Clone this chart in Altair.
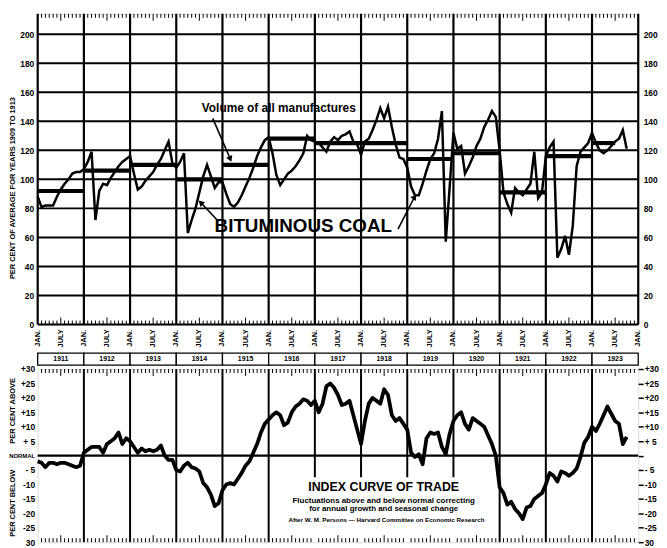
import altair as alt
import pandas as pd

# ---------------- values ----------------
years = [1911, 1912, 1913, 1914, 1915, 1916, 1917, 1918, 1919, 1920, 1921, 1922, 1923]
year_labels = ["1911", "1912", "1913", "1914", "1915", "1916", "1917",
               "1918", "1919", "1920", "1921", "1922", "1923"]
month_labels = ["JAN.", "JULY"]

# Bituminous coal, monthly Jan 1911 - Oct 1923 (per cent of 1909-1913 average)
coal = [
    88, 81, 82, 82, 82, 88, 93, 97, 100, 104, 105, 105,          # 1911
    107, 112, 119, 72, 92, 97, 96, 101, 105, 109, 112, 114,      # 1912
    116, 104, 93, 95, 99, 102, 105, 110, 114, 120, 126, 111,     # 1913
    108, 112, 118, 63, 72, 80, 91, 102, 110, 102, 94, 98,        # 1914
    98, 90, 83, 81, 84, 89, 95, 101, 108, 116, 122, 127,         # 1915
    129, 118, 103, 96, 100, 104, 106, 109, 113, 118, 130, 127,   # 1916
    126, 125, 122, 119, 126, 129, 127, 130, 131, 133, 126, 124,  # 1917
    117, 126, 128, 134, 141, 149, 142, 150, 136, 124, 115, 114,  # 1918
    108, 95, 89, 89, 97, 106, 114, 118, 128, 147, 57, 94,        # 1919
    132, 121, 123, 104, 109, 115, 123, 128, 136, 141, 147, 143,  # 1920
    120, 91, 83, 77, 94, 91, 89, 93, 97, 119, 87, 91,            # 1921
    116, 122, 126, 46, 52, 61, 48, 68, 109, 119, 122, 125,       # 1922
    132, 125, 120, 118, 120, 123, 126, 128, 134, 121,            # 1923
]

# Volume of all manufactures, yearly level
manufactures = [92, 106, 110, 100, 110, 128, 125, 125, 114, 118, 91, 116, 125]
manufactures_end = [1912, 1913, 1914, 1915, 1916, 1917, 1918, 1919, 1920,
                    1921, 1922, 1923, 1923.5]

# Index curve of trade, monthly Jan 1911 - Oct 1923 (per cent above / below normal)
trade = [
    -2, -2.5, -4, -2.5, -2.5, -3, -2.5, -2.5, -3, -3.5, -4, -3.5,      # 1911
    1, 2, 3, 3, 3, 1, 4, 5, 6, 8, 4, 6,                                # 1912
    5, 3, 1, 2.5, 1.5, 2, 1.5, 2, 3.5, 0, -1.5, -1.5,                  # 1913
    -5, -5.5, -3.5, -2.5, -4, -4.5, -5.5, -9.5, -11, -13.5, -17.5, -16.5,  # 1914
    -12, -10, -9.5, -10, -8, -6, -3.5, -2, 1, 4, 8, 11,                # 1915
    12.5, 14, 15, 14, 10.5, 11.5, 15, 17, 18, 19.5, 19, 17.5,          # 1916
    19, 15, 18, 24, 25, 23.5, 21, 17.5, 18, 19, 14, 9,                 # 1917
    4, 12, 18, 20, 19, 18, 23, 21, 14, 12, 13, 11,                     # 1918
    9, 1, -0.5, 0.5, -3, 6, 8, 7.5, 8, 3, 0.5, 7.5,                    # 1919
    12, 14, 15, 11, 9, 13, 12, 11, 10, 7, 4, 0,                        # 1920
    -11, -13, -17, -16, -18.5, -20, -22, -18, -17.5, -15, -14, -13,    # 1921
    -10, -6, -7, -9, -5.5, -6, -7, -6, -4.5, -0.5, 4.5, 6.5,           # 1922
    10, 8.5, 11, 14, 17, 14.5, 12, 11, 4, 6.5,                         # 1923
]

top_ticks = [0, 20, 40, 60, 80, 100, 120, 140, 160, 180, 200]
trade_ticks = [-30, -25, -20, -15, -10, -5, 0, 5, 10, 15, 20, 25, 30]

# ---------------- tables built from the arrays ----------------
df_coal = pd.DataFrame({"t": [1911 + i / 12 for i in range(len(coal))], "v": coal})
df_trade = pd.DataFrame({"t": [1911 + i / 12 for i in range(len(trade))], "v": trade})
df_man = pd.DataFrame({"start": years, "end": manufactures_end, "v": manufactures})
df_years = pd.DataFrame({"start": years, "end": [y + 1 for y in years],
                         "mid": [y + 0.5 for y in years], "label": year_labels})
df_bounds = pd.DataFrame({"yr": years + [1924]})
df_hgrid = pd.DataFrame({"v": top_ticks})
df_tt = pd.DataFrame({"v": trade_ticks})
df_mlab = pd.DataFrame({"t": [1911 + k / 2 for k in range(27)],
                        "label": [month_labels[k % 2] for k in range(27)]})
months_all = [1911 + k / 12 for k in range(1, 156) if k % 12 != 0]
df_mt = pd.DataFrame({"t": months_all,
                      "jul": [round((t % 1) * 12) == 6 for t in months_all]})

W, HT, HB = 607, 314, 175
FONT = "Liberation Sans"
xs = alt.Scale(domain=[1911, 1924], nice=False, zero=False)
yt = alt.Scale(domain=[0, 214], nice=False, zero=False)
yb = alt.Scale(domain=[-30, 30], nice=False, zero=False)
X = lambda f: alt.X(f, type="quantitative", scale=xs, axis=None)


def one(t, v):
    return pd.DataFrame({"t": [t], "v": [v]})


def label(text, t, v, ys, **kw):
    base = dict(font=FONT, fontWeight="bold", color="black")
    base.update(kw)
    return alt.Chart(one(t, v)).mark_text(text=text, **base).encode(
        x=X("t"), y=alt.Y("v:Q", scale=ys, axis=None))


def arrow(t1, v1, t2, v2, ang, ys):
    seg = alt.Chart(pd.DataFrame({"t": [t1], "v": [v1], "t2": [t2], "v2": [v2]})).mark_rule(
        color="black", strokeWidth=1.6).encode(
        x=X("t"), x2="t2", y=alt.Y("v:Q", scale=ys, axis=None), y2="v2")
    head = alt.Chart(one(t2, v2)).mark_point(
        shape="triangle-up", filled=True, color="black", size=45, angle=ang, opacity=1).encode(
        x=X("t"), y=alt.Y("v:Q", scale=ys, axis=None))
    return [seg, head]


def border_ticks(H):
    out = []
    for jul, L in [(False, 4), (True, 7)]:
        d = df_mt[df_mt["jul"] == jul]
        out.append(alt.Chart(d).mark_rule(color="black", strokeWidth=1).encode(
            x=X("t"), y=alt.value(0), y2=alt.value(L)))
        out.append(alt.Chart(d).mark_rule(color="black", strokeWidth=1).encode(
            x=X("t"), y=alt.value(H - L), y2=alt.value(H)))
    return out


def axis_layer(df, ys, **axkw):
    base = dict(labelFont=FONT, labelFontWeight="bold", labelColor="black",
                domain=False, grid=False, title=None, labelOverlap=False, labelFlush=False)
    base.update(axkw)
    return alt.Chart(df).mark_point(opacity=0).encode(
        x=alt.value(0), y=alt.Y("v:Q", scale=ys, axis=alt.Axis(**base)))


# ---------------- top panel ----------------
hgrid = alt.Chart(df_hgrid).mark_rule(color="black", strokeWidth=2).encode(
    y=alt.Y("v:Q", scale=yt, axis=None), x=alt.value(0), x2=alt.value(W))
vgrid = alt.Chart(df_bounds).mark_rule(color="black", strokeWidth=2.2).encode(
    x=X("yr"), y=alt.value(0), y2=alt.value(HT))
man = alt.Chart(df_man).mark_rule(color="black", strokeWidth=4.2).encode(
    x=X("start"), x2="end", y=alt.Y("v:Q", scale=yt, axis=None))
coal_line = alt.Chart(df_coal).mark_line(color="black", strokeWidth=2.5).encode(
    x=X("t"), y=alt.Y("v:Q", scale=yt, axis=None))

mlab = alt.Chart(df_mlab).mark_text(font=FONT, fontWeight="bold", fontSize=7.5, angle=270,
                                    color="black", align="center", baseline="middle").encode(
    x=X("t"), y=alt.value(HT + 14), text="label:N")
ybox = alt.Chart(df_years).mark_rect(fill="white", stroke="black", strokeWidth=1.3).encode(
    x=X("start"), x2="end", y=alt.value(HT + 29), y2=alt.value(HT + 41))
ytxt = alt.Chart(df_years).mark_text(font=FONT, fontWeight="bold", fontSize=7, color="black",
                                     baseline="middle").encode(
    x=X("mid"), y=alt.value(HT + 35), text="label:N")

top_title = alt.Chart(one(1911, 94)).mark_text(
    text="PER CENT OF AVERAGE FOR YEARS 1909 TO 1913", font=FONT, fontWeight="bold",
    fontSize=7.5, angle=270, color="black", baseline="middle").encode(
    x=alt.value(-25), y=alt.Y("v:Q", scale=yt, axis=None))

top_inner = alt.layer(
    hgrid, vgrid, man, coal_line, *border_ticks(HT), mlab, ybox, ytxt, top_title,
    label("Volume of all manufactures", 1916.22, 149, yt, fontSize=12),
    *arrow(1914.79, 142, 1915.17, 114, 157, yt),
    label("BITUMINOUS COAL", 1914.83, 68, yt, fontSize=19, align="left", baseline="middle"),
    *arrow(1914.90, 71.5, 1914.53, 84, 315, yt),
    *arrow(1918.80, 65.7, 1919.16, 88, 34, yt),
)
top_left = axis_layer(df_hgrid, yt, values=top_ticks, orient="left", labelPadding=4,
                      labelFontSize=8.5, ticks=False)
top_right = axis_layer(df_hgrid, yt, values=top_ticks, orient="right", labelPadding=5,
                       labelFontSize=8.5, ticks=False)
top = alt.layer(top_inner, top_left, top_right).resolve_scale(y="independent").properties(
    width=W, height=HT)

# ---------------- bottom panel ----------------
lexpr = ("datum.value == 0 ? 'NORMAL' : datum.value == 5 ? '+ 5' : datum.value == -5 ? '- 5' : "
         "datum.value == -30 ? '30' : datum.value > 0 ? '+' + datum.value : '-' + abs(datum.value)")
rexpr = ("datum.value == 0 ? '' : datum.value == 5 ? '+ 5' : datum.value == -5 ? '- 5' : "
         "datum.value == -30 ? '30' : datum.value > 0 ? '+' + datum.value : '-' + abs(datum.value)")

full_years = [y for y in years[1:] if y < 1917 or y > 1920]
part_years = [y for y in years[1:] if 1917 <= y <= 1920]
vfull = alt.Chart(pd.DataFrame({"yr": full_years})).mark_rule(color="black", strokeWidth=2).encode(
    x=X("yr"), y=alt.value(0), y2=alt.value(HB))
vpart = alt.Chart(pd.DataFrame({"yr": part_years})).mark_rule(color="black", strokeWidth=2).transform_calculate(
    hi="30", lo="-7.5").encode(x=X("yr"), y=alt.Y("hi:Q", scale=yb, axis=None), y2="lo:Q")
normal = alt.Chart(one(1911, 0)).mark_rule(color="black", strokeWidth=2.2).encode(
    y=alt.Y("v:Q", scale=yb, axis=None), x=alt.value(0), x2=alt.value(W))
trade_line = alt.Chart(df_trade).mark_line(color="black", strokeWidth=3.8, strokeJoin="round").encode(
    x=X("t"), y=alt.Y("v:Q", scale=yb, axis=None))

bot_inner = alt.layer(
    vfull, vpart, normal, trade_line, *border_ticks(HB),
    alt.Chart(one(1911, 15.5)).mark_text(text="PER CENT ABOVE", font=FONT, fontWeight="bold",
                                         fontSize=7.5, angle=270, color="black").encode(
        x=alt.value(-25), y=alt.Y("v:Q", scale=yb, axis=None)),
    alt.Chart(one(1911, -16.5)).mark_text(text="PER CENT BELOW", font=FONT, fontWeight="bold",
                                          fontSize=7.5, angle=270, color="black").encode(
        x=alt.value(-25), y=alt.Y("v:Q", scale=yb, axis=None)),
    label("INDEX CURVE OF TRADE", 1918.49, -10.8, yb, fontSize=12.5),
    label("Fluctuations above and below normal correcting", 1918.49, -15.6, yb, fontSize=8),
    label("for annual growth and seasonal change", 1918.49, -18.4, yb, fontSize=8),
    label("After W. M. Persons  \u2014  Harvard Committee on Economic Research", 1918.55, -22.2, yb,
          fontSize=6.3),
)
bot_left = axis_layer(df_tt, yb, values=trade_ticks, orient="left", labelPadding=3, labelExpr=lexpr,
                      labelFontSize={"condition": {"test": "datum.value == 0", "value": 6}, "value": 8.5},
                      ticks=False)
bot_right = axis_layer(df_tt, yb, values=trade_ticks, orient="right", labelPadding=1, labelExpr=rexpr,
                       labelFontSize=8.5, ticks=True, tickSize=5, tickWidth=1.5, tickColor="black")
bottom = alt.layer(bot_inner, bot_left, bot_right).resolve_scale(y="independent").properties(
    width=W, height=HB)

chart = alt.vconcat(top, bottom, spacing=45, bounds="flush").properties(
    padding={"left": 0, "top": 1, "right": 0, "bottom": 0}
).configure_view(stroke="black", strokeWidth=2.4).configure(background="white")

chart.save("out.html", embed_options={"renderer": "svg", "actions": False})
